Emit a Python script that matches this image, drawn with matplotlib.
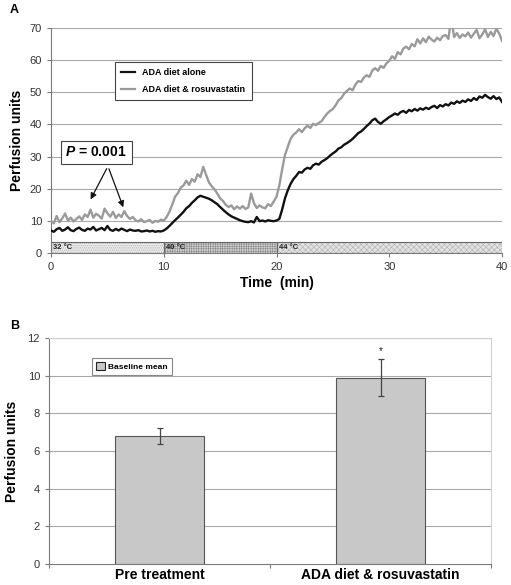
import numpy as np
import matplotlib
matplotlib.use("Agg")
import matplotlib.pyplot as plt
from matplotlib.patches import Rectangle, Patch
from matplotlib.lines import Line2D

plt.rcParams['font.family'] = ['Liberation Sans', 'DejaVu Sans']
plt.rcParams['hatch.linewidth'] = 0.4
plt.rcParams['mathtext.fontset'] = 'custom'
plt.rcParams['mathtext.bfit'] = 'Liberation Sans:italic:bold'
plt.rcParams['mathtext.bf'] = 'Liberation Sans:bold'
plt.rcParams['mathtext.rm'] = 'Liberation Sans'
plt.rcParams['mathtext.it'] = 'Liberation Sans:italic'

# ---------------- data ----------------
time_min = np.linspace(0, 40, 161)

diet_alone = [
    7.0, 6.6, 7.4, 7.8, 6.9, 7.3, 8.0, 7.1, 6.8, 7.5,
    7.9, 7.2, 6.9, 7.6, 7.3, 8.1, 7.0, 7.4, 7.8, 7.1,
    8.4, 7.2, 6.9, 7.5, 7.0, 7.6, 7.2, 6.8, 7.3, 7.0,
    6.9, 7.1, 6.7, 6.8, 7.0, 6.7, 6.9, 6.6, 6.8, 6.7,
    7.0, 7.6, 8.4, 9.3, 10.2, 11.0, 11.9, 12.8, 13.9, 14.6,
    15.6, 16.4, 17.3, 17.8, 17.5, 17.2, 16.9, 16.4, 15.8, 15.2,
    14.3, 13.5, 12.7, 12.0, 11.4, 11.0, 10.6, 10.2, 9.9, 9.7,
    9.6, 9.9, 9.5, 11.2, 9.9, 10.1, 9.8, 10.2, 10.0, 9.9,
    10.1, 10.6, 13.5, 17.0, 19.5, 21.5, 23.0, 24.0, 25.2, 25.0,
    26.0, 26.5, 26.2, 27.3, 27.8, 27.5, 28.4, 28.9, 29.5, 30.3,
    31.0, 31.6, 32.5, 32.9, 33.7, 34.2, 34.8, 35.5, 36.4, 37.3,
    37.8, 38.6, 39.5, 40.3, 41.3, 41.8, 40.8, 40.2, 41.0, 41.6,
    42.3, 42.8, 43.4, 43.0, 43.8, 44.2, 43.6, 44.5, 44.1, 44.8,
    44.3, 45.0, 44.6, 45.2, 44.8, 45.4, 45.8, 45.1, 46.0, 45.6,
    46.3, 45.9, 46.8, 46.4, 47.2, 46.7, 47.4, 47.0, 47.8, 47.3,
    48.2, 47.6, 48.7, 48.3, 49.2, 48.5, 48.0, 48.8, 47.9, 48.4,
    47.0,
]

diet_rosuva = [
    10.0, 9.2, 11.5, 9.6, 10.8, 12.3, 10.1, 11.0, 9.8, 10.6,
    11.4, 10.3, 12.0, 11.2, 13.5, 11.0, 12.2, 11.6, 10.7, 13.8,
    12.4, 11.3, 12.8, 10.9, 12.0, 11.2, 13.0, 11.5, 10.6, 11.2,
    10.2, 9.8, 10.5, 9.6, 9.9, 10.3, 9.4, 10.0, 9.7, 10.4,
    10.0, 11.2, 12.8, 15.0, 17.5, 18.6, 20.3, 21.0, 22.5, 21.2,
    23.0, 22.2, 24.5, 23.6, 26.8, 24.4, 22.0, 20.8, 19.8, 18.5,
    17.0, 16.2, 15.0, 14.3, 14.8, 13.6, 14.5, 13.8, 14.6, 13.7,
    14.2, 18.5, 15.5, 14.0, 14.8, 14.2, 13.9, 15.2, 14.6, 16.0,
    17.5, 21.0, 26.0, 30.5, 33.0, 35.5, 36.8, 37.5, 38.5, 37.6,
    38.8, 39.6, 38.9, 40.2, 39.8, 40.5, 41.0, 42.3, 43.4, 44.2,
    44.8, 46.0, 47.5, 48.2, 49.6, 50.4, 51.2, 50.6, 52.4, 53.5,
    53.2, 54.6, 55.3, 54.8, 56.8, 57.5, 56.7, 58.2, 57.6, 59.0,
    59.8, 61.2, 60.4, 62.5, 61.8, 63.6, 64.2, 63.4, 65.0, 64.3,
    66.5, 65.2, 66.8, 65.6, 67.3, 66.4, 65.8, 67.0, 66.2, 67.5,
    67.8, 66.6, 73.5, 67.2, 68.4, 66.9, 68.0, 67.4, 68.6, 67.0,
    68.2, 69.4, 66.8, 68.0, 69.6, 67.2, 68.8, 67.5, 69.8, 68.3,
    66.0,
]

temp_labels = ['32 °C', '40 °C', '44 °C']
temp_starts = [0, 10, 20]
temp_ends = [10, 20, 40]
temp_hatches = ['........', '+++++++', 'xxxxxx']
temp_fill = ['#ececec', '#d0d0d0', '#e2e2e2']
temp_hatch_col = ['#a0a0a0', '#8a8a8a', '#b0b0b0']

bar_categories = ['Pre treatment', 'ADA diet & rosuvastatin']
bar_means = [6.8, 9.9]
bar_err = [0.42, 0.97]

# ---------------- figure ----------------
fig = plt.figure(figsize=(5.11, 5.85), dpi=100)

grid_c = '#a8a8a8'
spine_c = '#7a7a7a'
text_c = '#333333'

# ---- Panel A ----
axA = fig.add_axes([51/511, 1-253/585, 451/511, 225/585])
axA.set_xlim(0, 40)
axA.set_ylim(0, 70)
axA.set_yticks(np.arange(0, 71, 10))
axA.set_xticks(np.arange(0, 41, 10))
for y in range(10, 71, 10):
    axA.axhline(y, color=grid_c, lw=0.8, zorder=0)
for s in ['top', 'right']:
    axA.spines[s].set_visible(False)
for s in ['left', 'bottom']:
    axA.spines[s].set_color(spine_c)
    axA.spines[s].set_linewidth(0.8)
axA.tick_params(axis='both', colors=spine_c, labelcolor=text_c, labelsize=8, length=3, width=0.8)

axA.plot(time_min, diet_rosuva, color='#9a9a9a', lw=1.7, zorder=3)
axA.plot(time_min, diet_alone, color='#111111', lw=1.7, zorder=4)

for lab, s0, s1, h, fc, hc in zip(temp_labels, temp_starts, temp_ends, temp_hatches,
                                  temp_fill, temp_hatch_col):
    axA.add_patch(Rectangle((s0, 0), s1 - s0, 3.4, facecolor=fc, edgecolor=hc,
                            hatch=h, lw=0, zorder=2))
    axA.add_patch(Rectangle((s0, 0), s1 - s0, 3.4, facecolor='none', edgecolor='#666666',
                            lw=0.8, zorder=2.5))
    axA.text(s0 + 0.2, 1.7, lab, fontsize=5.5, fontweight='bold', color='#222222',
             va='center', ha='left', zorder=3)

axA.set_ylabel('Perfusion units', fontsize=10, fontweight='bold', labelpad=4)
axA.set_xlabel('Time  (min)', fontsize=10, fontweight='bold', labelpad=3)

handlesA = [Line2D([], [], color='#111111', lw=1.6), Line2D([], [], color='#9a9a9a', lw=1.6)]
legA = axA.legend(handlesA, ['ADA diet alone', 'ADA diet & rosuvastatin'],
                  loc='upper left', bbox_to_anchor=((110-51)/451, (253-57)/225),
                  prop={'weight': 'bold', 'size': 6.5}, fancybox=False, framealpha=1,
                  edgecolor='#444444', handlelength=1.6, borderpad=0.7, labelspacing=0.9)
legA.get_frame().set_linewidth(0.8)

axA.annotate('', xy=(3.4, 15.9), xytext=(5.05, 27.0),
             arrowprops=dict(arrowstyle='-|>', color='#111111', lw=0.9, mutation_scale=9), zorder=6)
axA.annotate('', xy=(6.5, 13.4), xytext=(5.05, 27.0),
             arrowprops=dict(arrowstyle='-|>', color='#111111', lw=0.9, mutation_scale=9), zorder=6)
axA.text(4.0, 31.3, r'$\mathbfit{P}$ = 0.001', fontsize=10, fontweight='bold',
         ha='center', va='center', zorder=7,
         bbox=dict(boxstyle='square,pad=0.35', facecolor='white', edgecolor='#444444', lw=0.8))

fig.text(10/511, 1-10/585, 'A', fontsize=9, fontweight='bold', va='center', ha='left')

# ---- Panel B ----
axB = fig.add_axes([49/511, 1-564/585, 442/511, 226/585])
xpos = np.arange(len(bar_categories))
axB.set_xlim(-0.5, 1.5)
axB.set_ylim(0, 12)
axB.set_yticks(np.arange(0, 13, 2))
for y in range(2, 13, 2):
    axB.axhline(y, color=grid_c, lw=0.8, zorder=0)
axB.bar(xpos, bar_means, width=0.4, color='#c8c8c8', edgecolor='#555555', lw=0.8, zorder=2)
axB.errorbar(xpos, bar_means, yerr=bar_err, fmt='none', ecolor='#444444', elinewidth=0.9,
             capsize=2.5, capthick=0.9, zorder=3)
axB.text(xpos[1], bar_means[1] + bar_err[1] + 0.15, '*', ha='center', va='bottom',
         fontsize=7, color='#222222')
for s in ['top', 'right']:
    axB.spines[s].set_color('#d0d0d0')
    axB.spines[s].set_linewidth(0.8)
axB.spines['left'].set_color(spine_c)
axB.spines['bottom'].set_color(spine_c)
axB.spines['left'].set_linewidth(0.8)
axB.spines['bottom'].set_linewidth(0.8)
axB.set_xticks([-0.5, 0.5, 1.5])
axB.set_xticklabels([])
axB.set_xticks(xpos, minor=True)
axB.set_xticklabels(bar_categories, minor=True, fontsize=10, fontweight='bold')
axB.tick_params(axis='x', which='minor', length=0, pad=3)
axB.tick_params(axis='x', which='major', length=3, colors=spine_c, width=0.8)
axB.tick_params(axis='y', colors=spine_c, labelcolor=text_c, labelsize=8, length=3, width=0.8)
axB.set_ylabel('Perfusion units', fontsize=10, fontweight='bold', labelpad=6)

legB = axB.legend([Patch(facecolor='#c8c8c8', edgecolor='#222222', lw=0.8)], ['Baseline mean'],
                  loc='upper left', bbox_to_anchor=((88-49)/442, (564-354)/226),
                  prop={'weight': 'bold', 'size': 6}, fancybox=False, framealpha=1,
                  edgecolor='#888888', handlelength=1.0, handleheight=1.0, borderpad=0.5,
                  handletextpad=0.4)
legB.get_frame().set_linewidth(0.8)

fig.text(10/511, 1-326/585, 'B', fontsize=9, fontweight='bold', va='center', ha='left')

fig.savefig('out.png', dpi=100)
